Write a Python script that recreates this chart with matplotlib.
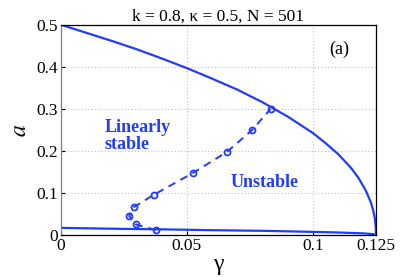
import numpy as np
import matplotlib
matplotlib.use('Agg')
import matplotlib.pyplot as plt

# upper boundary (stable / unstable)
gUp = [0, 0.01, 0.02, 0.03, 0.04, 0.05, 0.06, 0.07, 0.08, 0.09, 0.1, 0.105,
       0.11, 0.115, 0.118, 0.121, 0.123, 0.124, 0.1245, 0.1249, 0.125]
aUp = [0.5, 0.481, 0.462, 0.442, 0.42, 0.397, 0.372, 0.346, 0.316, 0.282, 0.243, 0.219,
       0.193, 0.161, 0.137, 0.106, 0.078, 0.057, 0.042, 0.02, 0.0]

# lower boundary
gLow = [0, 0.02, 0.04, 0.06, 0.08, 0.1, 0.11, 0.12, 0.124, 0.125]
aLow = [0.018, 0.016, 0.0145, 0.0125, 0.011, 0.0085, 0.007, 0.005, 0.003, 0.0]

# numerical points (N = 501)
gNum = [0.0377, 0.0299, 0.0272, 0.029, 0.0371, 0.0524, 0.0659, 0.0759, 0.0832]
aNum = [0.013, 0.026, 0.046, 0.067, 0.097, 0.148, 0.198, 0.25, 0.300]

blue = '#1f3cff'
serif = ['Liberation Serif', 'DejaVu Serif']
plt.rcParams['font.family'] = serif
plt.rcParams['mathtext.fontset'] = 'stix'

fig = plt.figure(figsize=(4.15, 2.77), dpi=100)
ax = fig.add_axes([0.146, 0.150, 0.76, 0.761])

ax.plot(gUp, aUp, color=blue, lw=1.6)
ax.plot(gLow, aLow, color=blue, lw=1.6)
ax.plot(gNum, aNum, color=blue, lw=1.4, ls=(0, (4, 3)), marker='o', ms=4.3,
        mfc='none', mec=blue, mew=1.3)

ax.set_xlim(0, 0.125)
ax.set_ylim(0, 0.5)
ax.set_xticks([0, 0.05, 0.1, 0.125])
ax.set_xticklabels(['0', '0.05', '0.1', '0.125'])
ax.set_yticks([0, 0.1, 0.2, 0.3, 0.4, 0.5])
ax.set_yticklabels(['0', '0.1', '0.2', '0.3', '0.4', '0.5'])
ax.grid(True, color='#c0c0c0', ls=(0, (1, 2)), lw=0.8)
ax.tick_params(direction='in', labelsize=12.5, length=3, pad=2)
ax.spines['left'].set_color('#808080')
for s in ax.spines.values():
    s.set_linewidth(0.9)

ax.set_title('k = 0.8, κ = 0.5, N = 501', fontsize=12.5, pad=3)
ax.set_xlabel('γ', fontsize=17, labelpad=0)
ax.set_ylabel('$a$', fontsize=17, labelpad=4)

ax.text(0.0176, 0.236, 'Linearly\nstable', color=blue, fontsize=13,
        fontweight='bold', ha='left', va='center', linespacing=0.95)
ax.text(0.0672, 0.126, 'Unstable', color=blue, fontsize=13,
        fontweight='bold', ha='left', va='center')
ax.text(0.1104, 0.442, '(a)', fontsize=13, ha='center', va='center')

fig.savefig('out.png', dpi=100)
